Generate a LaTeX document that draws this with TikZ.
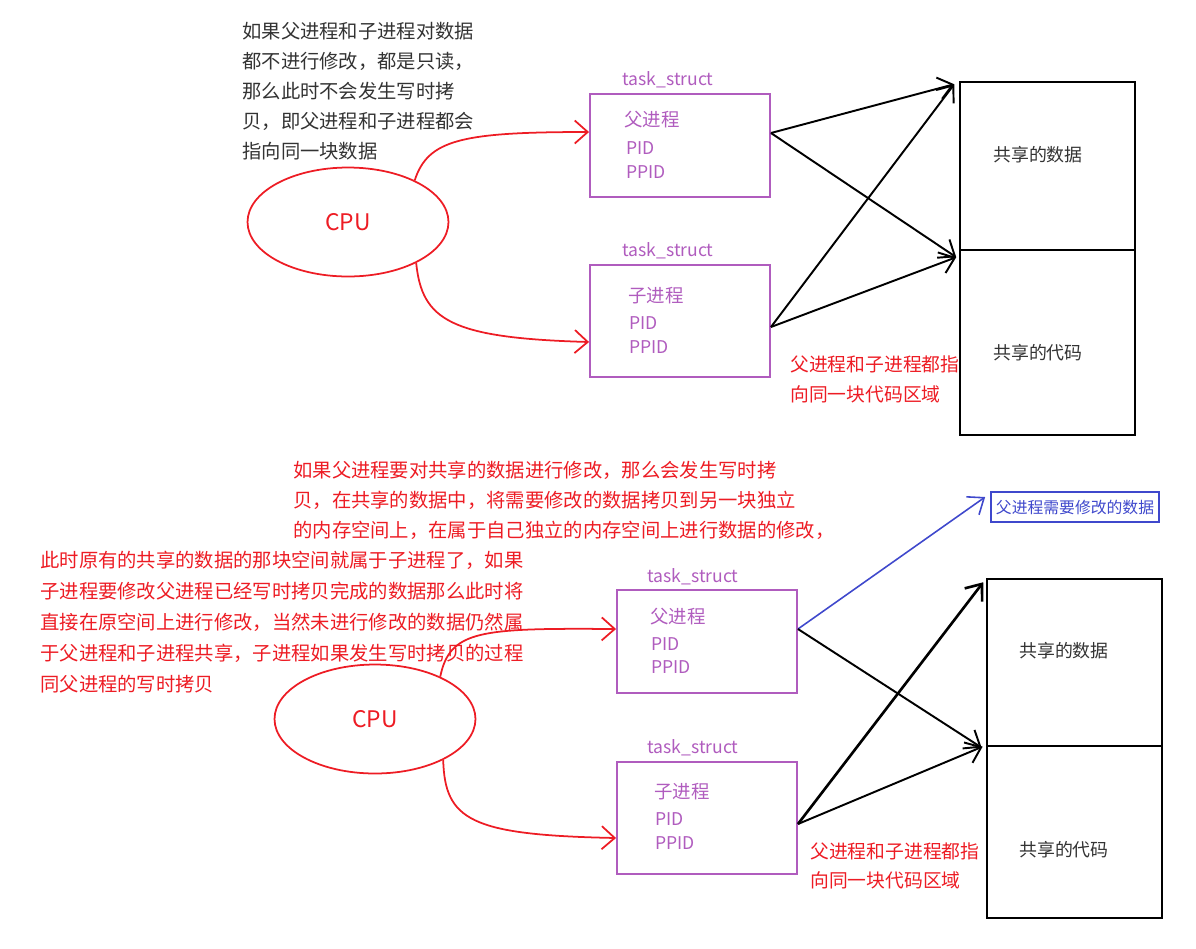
\documentclass[tikz,border=0pt]{standalone}
\usepackage{fontspec}
\setmainfont{Noto Sans CJK SC}
\usepackage{tikz}
\usetikzlibrary{positioning}
\usetikzlibrary{shapes.geometric}
\usetikzlibrary{arrows.meta}

\definecolor{penred}{RGB}{237,28,36}
\definecolor{penpurple}{RGB}{176,92,190}
\definecolor{penblue}{RGB}{63,72,204}
\definecolor{inkgray}{RGB}{51,51,51}

\tikzset{
  cpu/.style={ellipse,draw=penred,line width=1pt,minimum width=4.02cm,minimum height=2.18cm,inner sep=0pt,text=penred,font=\fontsize{13}{15}\selectfont},
  pcb/.style={draw=penpurple,line width=1.1pt,minimum width=3.6cm,inner sep=0pt},
  tag/.style={text=penpurple,inner sep=0pt,font=\fontsize{10}{12}\selectfont},
  field/.style={text=penpurple,anchor=west,inner sep=0pt,font=\fontsize{10}{12}\selectfont},
  pname/.style={field,font=\fontsize{10.5}{12}\selectfont},
  mem/.style={draw=black,line width=0.9pt,minimum width=3.5cm,inner sep=0pt},
  memtext/.style={text=inkgray,inner sep=0pt,font=\fontsize{10.2}{12}\selectfont},
  note/.style={anchor=north west,align=left,inner sep=0pt,font=\fontsize{11}{17}\selectfont},
  fork/.style={penred,line width=1pt,-{Straight Barb[length=2.6mm,width=4.6mm]}},
  ptr/.style={black,line width=1.1pt,-{Straight Barb[length=2.8mm,width=4.4mm]}},
}

\begin{document}
\begin{tikzpicture}[x=0.02cm,y=-0.02cm]
  \useasboundingbox (0,0) rectangle (1196,948);

  % --- no write: both point to the same data
  \node[note,text=inkgray] (note1) at (242,22) {如果父进程和子进程对数据\\都不进行修改，都是只读，\\那么此时不会发生写时拷\\贝，即父进程和子进程都会\\指向同一块数据};
  \node[cpu] (cpu1) at (348,222) {CPU};

  \node[pcb,minimum height=2.06cm] (par1) at (680,145.5) {};
  \node[tag] (tag1) at (668,80) {task\_struct};
  \node[pname] (par1n) at (624,120) {父进程};
  \node[field] (par1a) at (626,148) {PID};
  \node[field] (par1b) at (626,172) {PPID};

  \node[pcb,minimum height=2.24cm] (chi1) at (680,321) {};
  \node[tag] (tag2) at (668,251) {task\_struct};
  \node[pname] (chi1n) at (628,296) {子进程};
  \node[field] (chi1a) at (629,323) {PID};
  \node[field] (chi1b) at (629,347) {PPID};

  \node[mem,minimum height=3.36cm] (data1) at (1047.5,166) {};
  \node[mem,minimum height=3.7cm] (code1) at (1047.5,342.5) {};
  \node[memtext] (data1t) at (1038,155) {共享的数据};
  \node[memtext] (code1t) at (1038,353) {共享的代码};
  \node[note,text=penred,font=\fontsize{10.7}{17.5}\selectfont] (same1) at (790,355) {父进程和子进程都指\\向同一块代码区域};

  \draw[fork] (cpu1.32) .. controls (428,140) and (460,132) .. ([yshift=0.27cm]par1.west);
  \draw[fork] (cpu1.-31) .. controls (422,320) and (450,338) .. ([yshift=-0.42cm]chi1.west);
  \draw[ptr] ([yshift=0.25cm]par1.east) -- ([xshift=-0.1cm,yshift=-0.06cm]data1.north west);
  \draw[ptr] ([yshift=0.25cm]par1.east) -- ([xshift=-0.06cm,yshift=-0.16cm]code1.north west);
  \draw[ptr] ([yshift=-0.12cm]chi1.east) -- ([xshift=-0.1cm,yshift=-0.06cm]data1.north west);
  \draw[ptr] ([yshift=-0.12cm]chi1.east) -- ([xshift=-0.06cm,yshift=-0.16cm]code1.north west);

  % --- parent writes: copy on write
  \node[note,text=penred] (note2) at (293,461) {如果父进程要对共享的数据进行修改，那么会发生写时拷\\贝，在共享的数据中，将需要修改的数据拷贝到另一块独立\\的内存空间上，在属于自己独立的内存空间上进行数据的修改，};
  \node[note,text=penred,font=\fontsize{11}{17.6}\selectfont] (note3) at (40,551) {此时原有的共享的数据的那块空间就属于子进程了，如果\\子进程要修改父进程已经写时拷贝完成的数据那么此时将\\直接在原空间上进行修改，当然未进行修改的数据仍然属\\于父进程和子进程共享，子进程如果发生写时拷贝的过程\\同父进程的写时拷贝};
  \node[cpu] (cpu2) at (375,719) {CPU};

  \node[pcb,minimum height=2.06cm] (par2) at (707,641.5) {};
  \node[tag] (tag3) at (693,577) {task\_struct};
  \node[pname] (par2n) at (650,617) {父进程};
  \node[field] (par2a) at (651,644) {PID};
  \node[field] (par2b) at (651,667) {PPID};

  \node[pcb,minimum height=2.24cm] (chi2) at (707,818) {};
  \node[tag] (tag4) at (693,748) {task\_struct};
  \node[pname] (chi2n) at (654,792) {子进程};
  \node[field] (chi2a) at (655,819) {PID};
  \node[field] (chi2b) at (655,843) {PPID};

  \node[draw=penblue,line width=1pt,text=penblue,minimum width=3.36cm,minimum height=0.6cm,inner sep=0pt,font=\fontsize{9}{11}\selectfont] (dirty) at (1075,507) {父进程需要修改的数据};
  \node[mem,minimum height=3.34cm] (data2) at (1074.5,662.5) {};
  \node[mem,line width=1.6pt,minimum height=3.44cm] (code2) at (1074.5,832) {};
  \node[memtext] (data2t) at (1064,651) {共享的数据};
  \node[memtext] (code2t) at (1064,850) {共享的代码};
  \node[note,text=penred,font=\fontsize{10.7}{16.5}\selectfont] (same2) at (810,842) {父进程和子进程都指\\向同一块代码区域};

  \draw[fork] (cpu2.33) .. controls (450,630) and (480,628) .. ([yshift=0.25cm]par2.west);
  \draw[fork] (cpu2.-31) .. controls (445,820) and (470,835) .. ([yshift=-0.4cm]chi2.west);
  \draw[ptr,penblue,line width=0.9pt] ([yshift=0.25cm]par2.east) -- ([xshift=-0.1cm,yshift=0.2cm]dirty.west);
  \draw[ptr] ([yshift=0.25cm]par2.east) -- ([xshift=-0.08cm,yshift=-0.06cm]code2.north west);
  \draw[ptr,line width=1.5pt] ([yshift=-0.12cm]chi2.east) -- ([xshift=-0.06cm,yshift=-0.08cm]data2.north west);
  \draw[ptr] ([yshift=-0.12cm]chi2.east) -- ([xshift=-0.06cm,yshift=-0.04cm]code2.north west);
\end{tikzpicture}
\end{document}
